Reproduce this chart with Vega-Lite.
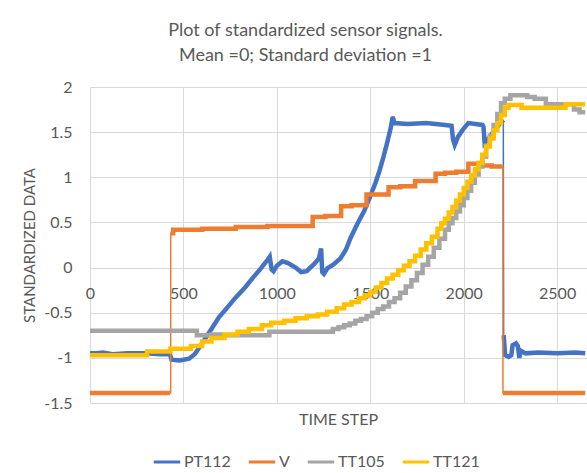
{
  "$schema": "https://vega.github.io/schema/vega-lite/v6.json",
  "width": 497,
  "height": 316,
  "autosize": {"type": "none"},
  "padding": {"left": 90, "top": 87, "right": 0, "bottom": 70},
  "background": "white",
  "config": {
    "view": {"stroke": null},
    "font": "Lato",
    "axis": {"labelFont": "Lato", "labelFontSize": 16, "labelColor": "#595959", "titleFont": "Lato", "titleColor": "#595959", "titleFontWeight": "normal", "gridColor": "#d9d9d9", "gridWidth": 1, "domain": false, "ticks": false},
    "legend": {"labelFont": "Lato", "labelFontSize": 16, "labelColor": "#595959"}
  },
  "title": {
    "text": ["Plot of standardized sensor signals.", "Mean =0; Standard deviation =1"],
    "font": "Lato",
    "fontSize": 18,
    "fontWeight": "normal",
    "color": "#595959",
    "anchor": "middle",
    "frame": "group",
    "dx": -33,
    "offset": 14,
    "lineHeight": 25
  },
  "datasets": {
    "pt": [
      {"s":"PT112","g":1,"x":0,"y":-0.95},{"s":"PT112","g":1,"x":40,"y":-0.95},{"s":"PT112","g":1,"x":70,"y":-0.94},{"s":"PT112","g":1,"x":120,"y":-0.96},{"s":"PT112","g":1,"x":200,"y":-0.95},{"s":"PT112","g":1,"x":300,"y":-0.95},{"s":"PT112","g":1,"x":380,"y":-0.96},{"s":"PT112","g":1,"x":428,"y":-0.96},{"s":"PT112","g":1,"x":436,"y":-1.02},{"s":"PT112","g":1,"x":480,"y":-1.03},{"s":"PT112","g":1,"x":530,"y":-1.01},{"s":"PT112","g":1,"x":560,"y":-0.96},{"s":"PT112","g":1,"x":600,"y":-0.84},{"s":"PT112","g":1,"x":650,"y":-0.68},{"s":"PT112","g":1,"x":690,"y":-0.55},{"s":"PT112","g":1,"x":740,"y":-0.43},{"s":"PT112","g":1,"x":780,"y":-0.33},{"s":"PT112","g":1,"x":830,"y":-0.22},{"s":"PT112","g":1,"x":869,"y":-0.12},{"s":"PT112","g":1,"x":910,"y":-0.02},{"s":"PT112","g":1,"x":945,"y":0.07},{"s":"PT112","g":1,"x":962,"y":0.12},{"s":"PT112","g":1,"x":972,"y":-0.02},{"s":"PT112","g":1,"x":982,"y":-0.04},{"s":"PT112","g":1,"x":1000,"y":0.02},{"s":"PT112","g":1,"x":1030,"y":0.07},{"s":"PT112","g":1,"x":1060,"y":0.05},{"s":"PT112","g":1,"x":1100,"y":0.0},{"s":"PT112","g":1,"x":1130,"y":-0.05},{"s":"PT112","g":1,"x":1160,"y":-0.04},{"s":"PT112","g":1,"x":1200,"y":0.04},{"s":"PT112","g":1,"x":1225,"y":0.1},{"s":"PT112","g":1,"x":1237,"y":0.21},{"s":"PT112","g":1,"x":1243,"y":-0.05},{"s":"PT112","g":1,"x":1252,"y":-0.07},{"s":"PT112","g":1,"x":1270,"y":-0.01},{"s":"PT112","g":1,"x":1300,"y":0.03},{"s":"PT112","g":1,"x":1340,"y":0.1},{"s":"PT112","g":1,"x":1370,"y":0.2},{"s":"PT112","g":1,"x":1395,"y":0.33},{"s":"PT112","g":1,"x":1430,"y":0.48},{"s":"PT112","g":1,"x":1468,"y":0.63},{"s":"PT112","g":1,"x":1504,"y":0.81},{"s":"PT112","g":1,"x":1530,"y":0.95},{"s":"PT112","g":1,"x":1549,"y":1.07},{"s":"PT112","g":1,"x":1570,"y":1.22},{"s":"PT112","g":1,"x":1590,"y":1.38},{"s":"PT112","g":1,"x":1610,"y":1.55},{"s":"PT112","g":1,"x":1620,"y":1.67},{"s":"PT112","g":1,"x":1630,"y":1.6},{"s":"PT112","g":1,"x":1700,"y":1.59},{"s":"PT112","g":1,"x":1800,"y":1.6},{"s":"PT112","g":1,"x":1900,"y":1.58},{"s":"PT112","g":1,"x":1935,"y":1.57},{"s":"PT112","g":1,"x":1943,"y":1.42},{"s":"PT112","g":1,"x":1952,"y":1.36},{"s":"PT112","g":1,"x":1970,"y":1.45},{"s":"PT112","g":1,"x":2000,"y":1.54},{"s":"PT112","g":1,"x":2025,"y":1.6},{"s":"PT112","g":1,"x":2100,"y":1.58},{"s":"PT112","g":1,"x":2106,"y":1.56},{"s":"PT112","g":1,"x":2112,"y":1.38},{"s":"PT112","g":1,"x":2140,"y":1.45},{"s":"PT112","g":1,"x":2180,"y":1.56},{"s":"PT112","g":1,"x":2205,"y":1.62},{"s":"PT112","g":1,"x":2212,"y":1.6},
      {"s":"PT112","g":2,"x":2214,"y":-0.75},{"s":"PT112","g":2,"x":2222,"y":-0.97},{"s":"PT112","g":2,"x":2240,"y":-0.99},{"s":"PT112","g":2,"x":2255,"y":-0.97},{"s":"PT112","g":2,"x":2262,"y":-0.86},{"s":"PT112","g":2,"x":2280,"y":-0.84},{"s":"PT112","g":2,"x":2290,"y":-0.87},{"s":"PT112","g":2,"x":2298,"y":-1.0},{"s":"PT112","g":2,"x":2305,"y":-0.92},{"s":"PT112","g":2,"x":2330,"y":-0.95},{"s":"PT112","g":2,"x":2400,"y":-0.94},{"s":"PT112","g":2,"x":2500,"y":-0.95},{"s":"PT112","g":2,"x":2600,"y":-0.94},{"s":"PT112","g":2,"x":2650,"y":-0.95}
    ],
    "st": [
      {"s":"V","g":1,"x":0,"y":-1.39},{"s":"V","g":1,"x":428,"y":-1.39},
      {"s":"V","g":2,"x":432,"y":0.38},{"s":"V","g":2,"x":445,"y":0.42},{"s":"V","g":2,"x":600,"y":0.43},{"s":"V","g":2,"x":780,"y":0.45},{"s":"V","g":2,"x":950,"y":0.46},{"s":"V","g":2,"x":1192,"y":0.56},{"s":"V","g":2,"x":1260,"y":0.57},{"s":"V","g":2,"x":1344,"y":0.68},{"s":"V","g":2,"x":1400,"y":0.69},{"s":"V","g":2,"x":1480,"y":0.81},{"s":"V","g":2,"x":1598,"y":0.89},{"s":"V","g":2,"x":1660,"y":0.9},{"s":"V","g":2,"x":1740,"y":0.96},{"s":"V","g":2,"x":1850,"y":1.04},{"s":"V","g":2,"x":1900,"y":1.05},{"s":"V","g":2,"x":1960,"y":1.06},{"s":"V","g":2,"x":2025,"y":1.15},{"s":"V","g":2,"x":2100,"y":1.13},{"s":"V","g":2,"x":2150,"y":1.12},{"s":"V","g":2,"x":2206,"y":1.12},
      {"s":"V","g":3,"x":2210,"y":-1.39},{"s":"V","g":3,"x":2650,"y":-1.39},
      {"s":"TT105","g":1,"x":0,"y":-0.7},{"s":"TT105","g":1,"x":572,"y":-0.75},{"s":"TT105","g":1,"x":650,"y":-0.74},{"s":"TT105","g":1,"x":700,"y":-0.75},{"s":"TT105","g":1,"x":960,"y":-0.71},{"s":"TT105","g":1,"x":1300,"y":-0.68},{"s":"TT105","g":1,"x":1330,"y":-0.66},{"s":"TT105","g":1,"x":1360,"y":-0.64},{"s":"TT105","g":1,"x":1390,"y":-0.62},{"s":"TT105","g":1,"x":1420,"y":-0.59},{"s":"TT105","g":1,"x":1450,"y":-0.57},{"s":"TT105","g":1,"x":1480,"y":-0.54},{"s":"TT105","g":1,"x":1510,"y":-0.5},{"s":"TT105","g":1,"x":1540,"y":-0.46},{"s":"TT105","g":1,"x":1570,"y":-0.43},{"s":"TT105","g":1,"x":1600,"y":-0.38},{"s":"TT105","g":1,"x":1630,"y":-0.34},{"s":"TT105","g":1,"x":1660,"y":-0.28},{"s":"TT105","g":1,"x":1690,"y":-0.21},{"s":"TT105","g":1,"x":1720,"y":-0.14},{"s":"TT105","g":1,"x":1750,"y":-0.06},{"s":"TT105","g":1,"x":1780,"y":0.03},{"s":"TT105","g":1,"x":1810,"y":0.12},{"s":"TT105","g":1,"x":1840,"y":0.22},{"s":"TT105","g":1,"x":1870,"y":0.32},{"s":"TT105","g":1,"x":1900,"y":0.42},{"s":"TT105","g":1,"x":1920,"y":0.49},{"s":"TT105","g":1,"x":1940,"y":0.55},{"s":"TT105","g":1,"x":1960,"y":0.62},{"s":"TT105","g":1,"x":1980,"y":0.69},{"s":"TT105","g":1,"x":2000,"y":0.77},{"s":"TT105","g":1,"x":2020,"y":0.85},{"s":"TT105","g":1,"x":2040,"y":0.94},{"s":"TT105","g":1,"x":2060,"y":1.03},{"s":"TT105","g":1,"x":2080,"y":1.12},{"s":"TT105","g":1,"x":2100,"y":1.23},{"s":"TT105","g":1,"x":2120,"y":1.35},{"s":"TT105","g":1,"x":2140,"y":1.46},{"s":"TT105","g":1,"x":2160,"y":1.58},{"s":"TT105","g":1,"x":2180,"y":1.7},{"s":"TT105","g":1,"x":2200,"y":1.82},{"s":"TT105","g":1,"x":2220,"y":1.87},{"s":"TT105","g":1,"x":2250,"y":1.91},{"s":"TT105","g":1,"x":2340,"y":1.89},{"s":"TT105","g":1,"x":2380,"y":1.87},{"s":"TT105","g":1,"x":2440,"y":1.81},{"s":"TT105","g":1,"x":2590,"y":1.75},{"s":"TT105","g":1,"x":2620,"y":1.72},{"s":"TT105","g":1,"x":2650,"y":1.72},
      {"s":"TT121","g":1,"x":0,"y":-0.97},{"s":"TT121","g":1,"x":305,"y":-0.93},{"s":"TT121","g":1,"x":430,"y":-0.9},{"s":"TT121","g":1,"x":540,"y":-0.87},{"s":"TT121","g":1,"x":600,"y":-0.82},{"s":"TT121","g":1,"x":650,"y":-0.78},{"s":"TT121","g":1,"x":720,"y":-0.74},{"s":"TT121","g":1,"x":790,"y":-0.71},{"s":"TT121","g":1,"x":850,"y":-0.68},{"s":"TT121","g":1,"x":920,"y":-0.64},{"s":"TT121","g":1,"x":970,"y":-0.61},{"s":"TT121","g":1,"x":1040,"y":-0.59},{"s":"TT121","g":1,"x":1100,"y":-0.56},{"s":"TT121","g":1,"x":1160,"y":-0.54},{"s":"TT121","g":1,"x":1220,"y":-0.52},{"s":"TT121","g":1,"x":1270,"y":-0.49},{"s":"TT121","g":1,"x":1320,"y":-0.45},{"s":"TT121","g":1,"x":1360,"y":-0.41},{"s":"TT121","g":1,"x":1400,"y":-0.38},{"s":"TT121","g":1,"x":1440,"y":-0.34},{"s":"TT121","g":1,"x":1470,"y":-0.31},{"s":"TT121","g":1,"x":1500,"y":-0.27},{"s":"TT121","g":1,"x":1530,"y":-0.22},{"s":"TT121","g":1,"x":1560,"y":-0.17},{"s":"TT121","g":1,"x":1590,"y":-0.12},{"s":"TT121","g":1,"x":1620,"y":-0.08},{"s":"TT121","g":1,"x":1650,"y":-0.03},{"s":"TT121","g":1,"x":1680,"y":0.02},{"s":"TT121","g":1,"x":1710,"y":0.07},{"s":"TT121","g":1,"x":1740,"y":0.13},{"s":"TT121","g":1,"x":1770,"y":0.2},{"s":"TT121","g":1,"x":1800,"y":0.27},{"s":"TT121","g":1,"x":1830,"y":0.34},{"s":"TT121","g":1,"x":1860,"y":0.43},{"s":"TT121","g":1,"x":1880,"y":0.49},{"s":"TT121","g":1,"x":1900,"y":0.54},{"s":"TT121","g":1,"x":1920,"y":0.61},{"s":"TT121","g":1,"x":1940,"y":0.67},{"s":"TT121","g":1,"x":1960,"y":0.74},{"s":"TT121","g":1,"x":1980,"y":0.81},{"s":"TT121","g":1,"x":2000,"y":0.88},{"s":"TT121","g":1,"x":2020,"y":0.95},{"s":"TT121","g":1,"x":2040,"y":1.02},{"s":"TT121","g":1,"x":2060,"y":1.09},{"s":"TT121","g":1,"x":2080,"y":1.16},{"s":"TT121","g":1,"x":2100,"y":1.25},{"s":"TT121","g":1,"x":2120,"y":1.34},{"s":"TT121","g":1,"x":2140,"y":1.43},{"s":"TT121","g":1,"x":2160,"y":1.52},{"s":"TT121","g":1,"x":2180,"y":1.6},{"s":"TT121","g":1,"x":2200,"y":1.69},{"s":"TT121","g":1,"x":2220,"y":1.77},{"s":"TT121","g":1,"x":2240,"y":1.8},{"s":"TT121","g":1,"x":2310,"y":1.77},{"s":"TT121","g":1,"x":2545,"y":1.81},{"s":"TT121","g":1,"x":2650,"y":1.81}
    ]
  },
  "encoding": {
    "x": {
      "field": "x", "type": "quantitative",
      "scale": {"domain": [0, 2660], "nice": false, "zero": false},
      "axis": {
        "values": [0, 500, 1000, 1500, 2000, 2500],
        "format": "d",
        "offset": -135,
        "labelPadding": 17,
        "labelFlush": false,
        "labelOverlap": false,
        "title": "TIME STEP",
        "titleFontSize": 16,
        "titleX": 248,
        "titleY": 151,
        "titleBaseline": "middle",
        "titleAlign": "center",
        "grid": true
      }
    },
    "y": {
      "field": "y", "type": "quantitative",
      "scale": {"domain": [-1.5, 2], "nice": false, "zero": false},
      "axis": {
        "values": [-1.5, -1, -0.5, 0, 0.5, 1, 1.5, 2],
        "labelExpr": "replace(format(datum.value, '~g'), '\u2212', '-')",
        "labelPadding": 18,
        "title": "STANDARDIZED DATA",
        "titleFontSize": 15,
        "titleX": -61,
        "titleY": 158,
        "titleAngle": -90,
        "titleAlign": "center",
        "titleBaseline": "middle",
        "grid": true
      }
    },
    "color": {
      "field": "s", "type": "nominal",
      "scale": {"domain": ["PT112", "V", "TT105", "TT121"], "range": ["#4472C4", "#ED7D31", "#A5A5A5", "#FFC000"]},
      "legend": {
        "title": null,
        "orient": "none",
        "direction": "horizontal",
        "legendX": 62,
        "legendY": 360,
        "symbolType": "stroke",
        "symbolSize": 700,
        "symbolStrokeWidth": 3,
        "labelOffset": 2,
        "columnPadding": 11
      }
    }
  },
  "layer": [
    {"data": {"name": "pt"}, "mark": {"type": "line", "strokeWidth": 1.5}},
    {"data": {"name": "pt"}, "mark": {"type": "line", "strokeWidth": 4.5}, "encoding": {"detail": {"field": "g", "type": "nominal"}}},
    {"data": {"name": "st"}, "mark": {"type": "line", "strokeWidth": 1.5, "interpolate": "step-after"}},
    {"data": {"name": "st"}, "mark": {"type": "line", "strokeWidth": 4.5, "interpolate": "step-after"}, "encoding": {"detail": {"field": "g", "type": "nominal"}}}
  ]
}
